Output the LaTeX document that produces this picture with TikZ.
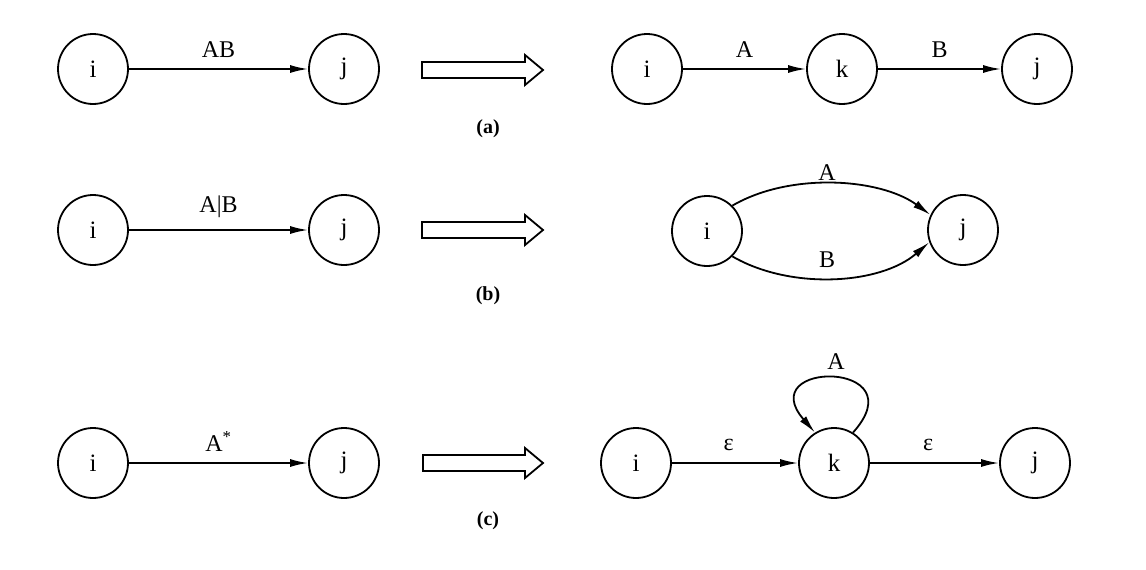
\documentclass[tikz,border=0pt]{standalone}
\usepackage{fontspec}
\setmainfont{Liberation Serif}
\usetikzlibrary{arrows.meta}
\begin{document}
\begin{tikzpicture}[x=1pt,y=-1pt,
  st/.style={circle,draw,line width=1.8pt,minimum size=70pt,inner sep=0pt,font=\fontsize{25}{28}\selectfont},
  edge/.style={line width=1.8pt,-{Latex[length=18pt,width=8pt]}},
  lab/.style={midway,above,inner sep=0pt,yshift=11pt,font=\fontsize{24}{28}\selectfont},
  figcap/.style={font=\fontsize{20}{24}\selectfont\bfseries},
  hollow/.style={draw,line width=1.8pt,line join=miter,fill=white}]
\useasboundingbox (0,0) rectangle (1146,570);
% row (a)
\node[st] (ai) at (93,69) {i};
\node[st] (aj) at (344,69) {j};
\draw[edge] (ai) -- node[lab] {AB} (aj);
\draw[hollow] (422,62) -- (525,62) -- (525,55) -- (543,70) -- (525,85) -- (525,78) -- (422,78) -- cycle;
\node[st] (ari) at (647,69) {i};
\node[st] (ark) at (842,69) {k};
\node[st] (arj) at (1037,69) {j};
\draw[edge] (ari) -- node[lab] {A} (ark);
\draw[edge] (ark) -- node[lab] {B} (arj);
\node[figcap] (capa) at (488,129) {(a)};
% row (b)
\node[st] (bi) at (93,230) {i};
\node[st] (bj) at (344,230) {j};
\draw[edge] (bi) -- node[lab] {A|B} (bj);
\draw[hollow] (422,222) -- (525,222) -- (525,215) -- (543,230) -- (525,245) -- (525,238) -- (422,238) -- cycle;
\node[st] (bri) at (707,231) {i};
\node[st] (brj) at (963,230) {j};
\draw[edge] (bri.45) .. controls (790,172) and (880,178) .. (brj.155);
\draw[edge] (bri.-45) .. controls (790,290) and (880,285) .. (brj.-160);
\node[font=\fontsize{24}{28}\selectfont] (la) at (827,173) {A};
\node[font=\fontsize{24}{28}\selectfont] (lb) at (827,260) {B};
\node[figcap] (capb) at (488,296) {(b)};
% row (c)
\node[st] (ci) at (93,463) {i};
\node[st] (cj) at (344,463) {j};
\draw[edge] (ci) -- node[lab] {A\textsuperscript{*}} (cj);
\draw[hollow] (423,455) -- (525,455) -- (525,448) -- (543,463) -- (525,478) -- (525,471) -- (423,471) -- cycle;
\node[st] (cri) at (636,463) {i};
\node[st] (crk) at (834,463) {k};
\node[st] (crj) at (1035,463) {j};
\draw[edge] (cri) -- node[lab,pos=0.45] {ε} (crk);
\draw[edge] (crk) -- node[lab,pos=0.45] {ε} (crj);
\draw[edge] (crk.58) .. controls (918,360) and (752,360) .. (crk.122);
\node[font=\fontsize{24}{28}\selectfont] (lc) at (836,362) {A};
\node[figcap] (capc) at (488,521) {(c)};
\end{tikzpicture}
\end{document}
